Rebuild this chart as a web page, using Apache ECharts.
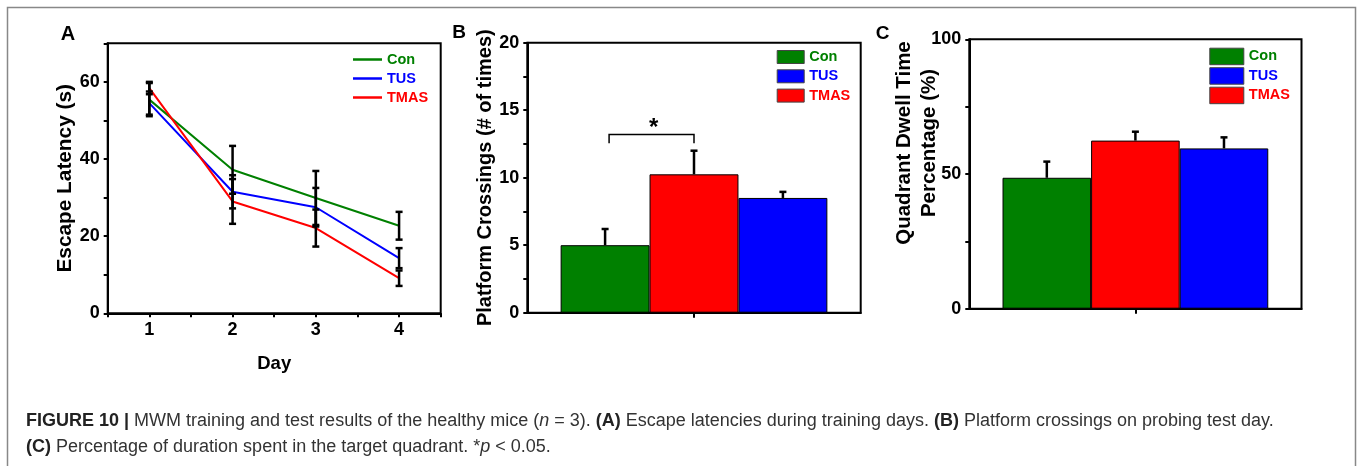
<!DOCTYPE html>
<html>
<head>
<meta charset="utf-8">
<script src="https://cdn.jsdelivr.net/npm/echarts@6/dist/echarts.min.js"></script>
<style>
html, body { margin: 0; padding: 0; background: #fff; }
#chart { width: 1360px; height: 466px; }
</style>
</head>
<body>
<div id="chart"></div>
<script>
// panel A - escape latency over training days
var days = [1, 2, 3, 4];
var conLatency = [55.4, 37.2, 29.9, 22.7];
var conLatencyErr = [4.3, 6.2, 7.0, 3.6];
var tusLatency = [54.5, 31.5, 27.5, 14.3];
var tusLatencyErr = [3.0, 4.3, 5.0, 2.6];
var tmasLatency = [58.4, 29.0, 22.1, 9.1];
var tmasLatencyErr = [1.6, 5.8, 4.8, 2.0];
var latencyTickLabels = [0, 20, 40, 60];

// panel B/C - probe test, bars drawn in this order
var barGroups = ['Con', 'TMAS', 'TUS'];
var crossings = [5.0, 10.25, 8.5];
var crossingsErr = [1.2, 1.75, 0.45];
var crossingsTickLabels = [0, 5, 10, 15, 20];
var sigBracket = [13.2, 12.55]; // top of bracket, bottom of legs
var dwell = [48.6, 62.4, 59.5];
var dwellErr = [6.0, 3.3, 4.1];
var dwellTickLabels = [0, 50, 100];

var legendOrder = ['Con', 'TUS', 'TMAS'];
var colors = { Con: '#008000', TUS: '#0000ff', TMAS: '#ff0000' };

var FONT = 'Liberation Sans, Arial, sans-serif';

var chart = echarts.init(document.getElementById('chart'));

function tickFmt(list) {
	return function (v) { return list.indexOf(+v) >= 0 ? String(v) : ''; };
}

function axisCommon() {
	return {
		axisLine: { show: true, lineStyle: { color: '#000', width: 2 } },
		axisTick: { show: true, inside: false, length: 4, lineStyle: { color: '#000', width: 2 } },
		splitLine: { show: false },
		axisLabel: { color: '#000', fontFamily: FONT, fontWeight: 'bold', fontSize: 18, margin: 8 },
		nameTextStyle: { color: '#000', fontFamily: FONT, fontWeight: 'bold', fontSize: 20 }
	};
}

function mergeAxis(extra) {
	var base = axisCommon();
	for (var k in extra) {
		if (typeof extra[k] == 'object' && base[k] && !Array.isArray(extra[k])) {
			for (var j in extra[k]) base[k][j] = extra[k][j];
		} else {
			base[k] = extra[k];
		}
	}
	return base;
}

// error bars for the line chart
function lineErrItem(params, api) {
	var x = api.value(0);
	var lo = api.coord([x, api.value(1)]);
	var hi = api.coord([x, api.value(2)]);
	var w = 3.5;
	var st = { stroke: '#000', lineWidth: 2.5 };
	return {
		type: 'group',
		children: [
			{ type: 'line', shape: { x1: lo[0], y1: lo[1], x2: hi[0], y2: hi[1] }, style: st },
			{ type: 'line', shape: { x1: lo[0] - w, y1: lo[1], x2: lo[0] + w, y2: lo[1] }, style: st },
			{ type: 'line', shape: { x1: hi[0] - w, y1: hi[1], x2: hi[0] + w, y2: hi[1] }, style: st }
		]
	};
}

// error bars on top of the grouped bars (single category, barGap 0)
function barErrItem(params, api) {
	var band = api.size([1, 0])[0];
	var bw = band * 0.8 / 3;
	var off = (api.value(3) - 1) * bw;
	var lo = api.coord([0, api.value(1)]);
	var hi = api.coord([0, api.value(2)]);
	var x = lo[0] + off;
	var w = 3.5;
	var st = { stroke: '#000', lineWidth: 2.5 };
	return {
		type: 'group',
		children: [
			{ type: 'line', shape: { x1: x, y1: lo[1], x2: x, y2: hi[1] }, style: st },
			{ type: 'line', shape: { x1: x - w, y1: hi[1], x2: x + w, y2: hi[1] }, style: st }
		]
	};
}

function sigItem(params, api) {
	var band = api.size([1, 0])[0];
	var bw = band * 0.8 / 3;
	var top = api.coord([0, api.value(1)]);
	var leg = api.coord([0, api.value(2)]);
	var x1 = top[0] - bw + 4, x2 = top[0];
	return {
		type: 'group',
		children: [
			{ type: 'polyline', shape: { points: [[x1, leg[1]], [x1, top[1]], [x2, top[1]], [x2, leg[1]]] },
				style: { stroke: '#000', lineWidth: 1.5, fill: null } },
			{ type: 'text', x: (x1 + x2) / 2 + 2, y: top[1] - 6,
				style: { text: '*', font: 'bold 24px ' + FONT, fill: '#000', align: 'center', verticalAlign: 'middle' } }
		]
	};
}

function errData(vals, errs, withSlot) {
	return vals.map(function (v, i) {
		return withSlot ? [0, v, v + errs[i], i] : [days[i], v - errs[i], v + errs[i]];
	});
}

function lineSeries(name, vals) {
	return {
		name: name, type: 'line', xAxisIndex: 0, yAxisIndex: 0,
		data: vals.map(function (v, i) { return [days[i], v]; }),
		showSymbol: false, symbol: 'none',
		lineStyle: { color: colors[name], width: 2 },
		itemStyle: { color: colors[name] },
		z: 2
	};
}

function barSeries(name, vals, axis) {
	return {
		name: name, type: 'bar', xAxisIndex: axis, yAxisIndex: axis,
		data: [vals[barGroups.indexOf(name)]],
		barGap: '0%', barCategoryGap: '20%',
		itemStyle: { color: colors[name], borderColor: '#000', borderWidth: 1 },
		z: 2
	};
}

function legendData(list) {
	return list.map(function (n) { return { name: n, textStyle: { color: colors[n] } }; });
}

var legendText = { fontFamily: FONT, fontWeight: 'bold', fontSize: 14.5 };

var capRich = {
	b: { fontWeight: 'bold', fontSize: 18, fontFamily: FONT, fill: '#222' },
	i: { fontStyle: 'italic', fontSize: 18, fontFamily: FONT, fill: '#333' }
};

var option = {
	animation: false,
	backgroundColor: '#fff',
	grid: [
		{ left: 107.7, top: 43.3, right: 919.3, bottom: 152.7, show: true, borderColor: '#000', borderWidth: 2 },
		{ left: 527.3, top: 42.7, right: 499.3, bottom: 153.3, show: true, borderColor: '#000', borderWidth: 2 },
		{ left: 969.3, top: 39.3, right: 58.5, bottom: 157.3, show: true, borderColor: '#000', borderWidth: 2 }
	],
	legend: [
		{ orient: 'vertical', left: 353, top: 52, padding: 0, itemGap: 4, itemWidth: 29, itemHeight: 2.5,
			icon: 'rect', textStyle: legendText, data: legendData(legendOrder) },
		{ orient: 'vertical', left: 776.7, top: 49.5, padding: 0, itemGap: 4.3, itemWidth: 27, itemHeight: 13,
			icon: 'rect', textStyle: legendText, itemStyle: { borderColor: '#444', borderWidth: 1 },
			data: legendData(legendOrder) },
		{ orient: 'vertical', left: 1209.3, top: 47.7, padding: 0, itemGap: 2, itemWidth: 34, itemHeight: 16.5,
			icon: 'rect', textStyle: legendText, itemStyle: { borderColor: '#444', borderWidth: 1 },
			data: legendData(legendOrder) }
	],
	xAxis: [
		mergeAxis({ gridIndex: 0, type: 'value', min: 0.5, max: 4.5, interval: 0.5,
			name: 'Day', nameLocation: 'middle', nameGap: 41,
			axisLabel: { formatter: tickFmt(days) },
			nameTextStyle: { fontSize: 18.5 } }),
		mergeAxis({ gridIndex: 1, type: 'category', data: [''],
			axisTick: { alignWithLabel: true, length: 5 }, axisLabel: { show: false } }),
		mergeAxis({ gridIndex: 2, type: 'category', data: [''],
			axisTick: { alignWithLabel: true, length: 5 }, axisLabel: { show: false } })
	],
	yAxis: [
		mergeAxis({ gridIndex: 0, type: 'value', min: 0, max: 70, interval: 10,
			name: 'Escape Latency (s)', nameLocation: 'middle', nameGap: 32,
			axisLabel: { formatter: tickFmt(latencyTickLabels) },
			nameTextStyle: { fontSize: 20.8 } }),
		mergeAxis({ gridIndex: 1, type: 'value', min: 0, max: 20, interval: 2.5,
			name: 'Platform Crossings (# of times)', nameLocation: 'middle', nameGap: 31,
			axisLabel: { formatter: tickFmt(crossingsTickLabels) } }),
		mergeAxis({ gridIndex: 2, type: 'value', min: 0, max: 100, interval: 25,
			name: 'Quadrant Dwell Time\nPercentage (%)', nameLocation: 'middle', nameGap: 27,
			nameMoveOverlap: false,
			axisLabel: { formatter: tickFmt(dwellTickLabels) },
			nameTextStyle: { fontSize: 20.5, lineHeight: 25.6, padding: [0, 0, 0, 62] } })
	],
	series: [
		lineSeries('Con', conLatency),
		lineSeries('TUS', tusLatency),
		lineSeries('TMAS', tmasLatency),
		{ type: 'custom', xAxisIndex: 0, yAxisIndex: 0, renderItem: lineErrItem, data: errData(conLatency, conLatencyErr), z: 5 },
		{ type: 'custom', xAxisIndex: 0, yAxisIndex: 0, renderItem: lineErrItem, data: errData(tusLatency, tusLatencyErr), z: 5 },
		{ type: 'custom', xAxisIndex: 0, yAxisIndex: 0, renderItem: lineErrItem, data: errData(tmasLatency, tmasLatencyErr), z: 5 },

		barSeries('Con', crossings, 1),
		barSeries('TMAS', crossings, 1),
		barSeries('TUS', crossings, 1),
		{ type: 'custom', xAxisIndex: 1, yAxisIndex: 1, renderItem: barErrItem, data: errData(crossings, crossingsErr, true), z: 5 },
		{ type: 'custom', xAxisIndex: 1, yAxisIndex: 1, renderItem: sigItem, data: [[0, sigBracket[0], sigBracket[1]]], z: 5 },

		barSeries('Con', dwell, 2),
		barSeries('TMAS', dwell, 2),
		barSeries('TUS', dwell, 2),
		{ type: 'custom', xAxisIndex: 2, yAxisIndex: 2, renderItem: barErrItem, data: errData(dwell, dwellErr, true), z: 5 }
	],
	graphic: [
		{ type: 'rect', shape: { x: 7.5, y: 7.5, width: 1348, height: 480 }, style: { stroke: '#888', lineWidth: 1.5, fill: null }, silent: true },
		{ type: 'text', x: 68, y: 34, style: { text: 'A', font: 'bold 20px ' + FONT, fill: '#000', align: 'center', verticalAlign: 'middle' } },
		{ type: 'text', x: 459, y: 33, style: { text: 'B', font: 'bold 19px ' + FONT, fill: '#000', align: 'center', verticalAlign: 'middle' } },
		{ type: 'text', x: 882.7, y: 34, style: { text: 'C', font: 'bold 19px ' + FONT, fill: '#000', align: 'center', verticalAlign: 'middle' } },
		{ type: 'text', x: 26, y: 421, style: {
			text: '{b|FIGURE 10 |} MWM training and test results of the healthy mice ({i|n} = 3). {b|(A)} Escape latencies during training days. {b|(B)} Platform crossings on probing test day.',
			font: '18px ' + FONT, fill: '#333', verticalAlign: 'middle', rich: capRich
		} },
		{ type: 'text', x: 26, y: 447, style: {
			text: '{b|(C)} Percentage of duration spent in the target quadrant. *{i|p} < 0.05.',
			font: '18px ' + FONT, fill: '#333', verticalAlign: 'middle', rich: capRich
		} }
	]
};

chart.setOption(option);
</script>
</body>
</html>
